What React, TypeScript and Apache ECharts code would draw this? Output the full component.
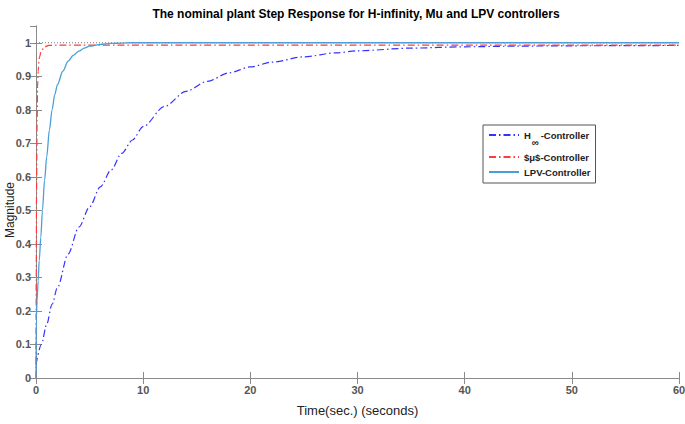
import React, { useEffect, useRef } from "react";
import * as echarts from "echarts";

const title = "The nominal plant Step Response for H-infinity, Mu and LPV controllers";
const xName = "Time(sec.) (seconds)";
const yName = "Magnitude";
const seriesNames = ["H∞-Controller", "$μ$-Controller", "LPV-Controller"];

const hinfT = [0, 0.5, 1, 1.5, 2, 3, 4, 5, 6, 7, 8, 9, 10, 12, 14, 16, 18, 20, 22, 25, 28, 30, 35, 40, 45, 50, 60];
const hinfV = [0.04, 0.1, 0.16, 0.22, 0.27, 0.37, 0.45, 0.51, 0.57, 0.62, 0.67, 0.71, 0.75, 0.81, 0.855, 0.885, 0.91, 0.928, 0.942, 0.958, 0.97, 0.976, 0.984, 0.988, 0.99, 0.991, 0.992];

const muT = [0, 0.01, 0.02, 0.05, 0.1, 0.15, 0.2, 0.3, 0.5, 0.8, 1.2, 2, 60];
const muV = [0, 0.18, 0.3, 0.55, 0.76, 0.87, 0.915, 0.955, 0.976, 0.988, 0.992, 0.993, 0.993];

const lpvT = [0, 0.03, 0.1, 0.2, 0.3, 0.45, 0.6, 0.8, 1, 1.25, 1.5, 1.75, 2, 2.5, 3, 3.5, 4, 4.5, 5, 6, 7, 8, 9, 60];
const lpvV = [0, 0.18, 0.23, 0.29, 0.35, 0.42, 0.5, 0.59, 0.66, 0.74, 0.8, 0.845, 0.875, 0.915, 0.945, 0.963, 0.975, 0.984, 0.99, 0.995, 0.998, 0.999, 1.0, 1.0];

const refT = [0, 60];
const refV = [1, 1];

const xTicks = { min: 0, max: 60, interval: 10 };
const yTicks = { min: 0, max: 1.05, interval: 0.1 };

const zip = (t: number[], v: number[]) => t.map((x, i) => [x, v[i]]);

const FONT = "'Liberation Sans Narrow', 'Liberation Sans', Arial, sans-serif";
const AXIS_GRAY = "#8a8a8a";
const LABEL_GRAY = "#555555";

export default function App() {
  const ref = useRef<HTMLDivElement>(null);
  useEffect(() => {
    if (!ref.current) return;
    const chart = echarts.init(ref.current, undefined, { renderer: "svg" });
    const yFmt = (v: number) => {
      const r = Math.round(v * 10) / 10;
      if (Math.abs(r - v) > 1e-6) return "";
      return String(r);
    };
    chart.setOption({
      animation: false,
      backgroundColor: "#ffffff",
      title: {
        text: title,
        left: 351,
        textAlign: "center",
        top: 3,
        textStyle: { fontFamily: FONT, fontSize: 12, fontWeight: "bold", color: "#000" },
      },
      grid: { left: 36, right: 6, top: 26, bottom: 46, containLabel: false, outerBoundsMode: "none" },
      graphic: [
        {
          type: "text",
          x: 10,
          y: 210,
          rotation: Math.PI / 2,
          style: {
            text: yName,
            fontFamily: "'Liberation Sans', Arial, sans-serif",
            fontSize: 12,
            fill: "#222",
            align: "center",
            verticalAlign: "middle",
          },
        },
      ],
      legend: {
        data: seriesNames,
        orient: "vertical",
        left: 483,
        top: 125,
        itemWidth: 30,
        itemHeight: 10,
        itemGap: 5,
        padding: [5, 5, 6, 5],
        borderColor: "#555",
        borderWidth: 1,
        backgroundColor: "#fff",
        itemStyle: { opacity: 0 },
        formatter: (name: string) => {
          if (name === seriesNames[0]) return "{t|H}{sub|∞}{t|-Controller}";
          return "{t|" + name + "}";
        },
        textStyle: {
          fontFamily: FONT,
          fontSize: 9.5,
          fontWeight: "bold",
          color: "#222",
          rich: {
            t: { fontFamily: FONT, fontSize: 9.5, fontWeight: "bold", color: "#222" },
            sub: { fontFamily: FONT, fontSize: 9.5, fontWeight: "bold", color: "#222", padding: [14, 2, 0, 1] },
          },
        },
      },
      xAxis: [
        {
          type: "value",
          min: xTicks.min,
          max: xTicks.max,
          interval: xTicks.interval,
          name: xName,
          nameLocation: "middle",
          nameGap: 26,
          nameMoveOverlap: false,
          nameTextStyle: { fontFamily: "'Liberation Sans', Arial, sans-serif", fontSize: 13, color: "#222" },
          axisLine: { show: true, lineStyle: { color: AXIS_GRAY, width: 1 } },
          axisTick: { show: true, inside: true, length: 6, lineStyle: { color: AXIS_GRAY } },
          axisLabel: { fontFamily: FONT, fontSize: 11, fontWeight: "bold", color: LABEL_GRAY, margin: 6 },
          splitLine: { show: false },
        },
        {
          type: "value",
          position: "top",
          min: xTicks.min,
          max: xTicks.max,
          interval: xTicks.interval,
          axisLine: { show: true, lineStyle: { color: AXIS_GRAY, width: 1 } },
          axisTick: { show: true, inside: true, length: 6, lineStyle: { color: AXIS_GRAY } },
          axisLabel: { show: false },
          splitLine: { show: false },
        },
      ],
      yAxis: [
        {
          type: "value",
          min: yTicks.min,
          max: yTicks.max,
          interval: yTicks.interval,
          axisLine: { show: true, lineStyle: { color: AXIS_GRAY, width: 1 } },
          axisTick: { show: true, inside: true, length: 6, lineStyle: { color: AXIS_GRAY } },
          axisLabel: { fontFamily: FONT, fontSize: 11, fontWeight: "bold", color: LABEL_GRAY, margin: 5, formatter: yFmt, showMaxLabel: false },
          splitLine: { show: false },
        },
        {
          type: "value",
          position: "right",
          min: yTicks.min,
          max: yTicks.max,
          interval: yTicks.interval,
          axisLine: { show: true, lineStyle: { color: AXIS_GRAY, width: 1 } },
          axisTick: { show: true, inside: true, length: 6, lineStyle: { color: AXIS_GRAY } },
          axisLabel: { show: false },
          splitLine: { show: false },
        },
      ],
      series: [
        {
          name: "ref",
          type: "line",
          data: zip(refT, refV),
          symbol: "none",
          silent: true,
          lineStyle: { color: "#777", width: 1, type: [1, 2] },
          z: 1,
        },
        {
          name: seriesNames[0],
          type: "line",
          data: zip(hinfT, hinfV),
          symbol: "none",
          smooth: 0.3,
          smoothMonotone: "x",
          lineStyle: { color: "#3333ff", width: 1.2, type: [7, 3, 1.5, 3] },
          itemStyle: { color: "#3333ff" },
          z: 2,
        },
        {
          name: seriesNames[1],
          type: "line",
          data: zip(muT, muV),
          symbol: "none",
          smooth: 0.3,
          smoothMonotone: "x",
          lineStyle: { color: "#ff3b3b", width: 1.2, type: [7, 3, 1.5, 3] },
          itemStyle: { color: "#ff3b3b" },
          z: 3,
        },
        {
          name: seriesNames[2],
          type: "line",
          data: zip(lpvT, lpvV),
          symbol: "none",
          smooth: 0.3,
          smoothMonotone: "x",
          lineStyle: { color: "#4a9fd8", width: 1.3 },
          itemStyle: { color: "#4a9fd8" },
          z: 4,
        },
      ],
    });
    return () => chart.dispose();
  }, []);
  return <div ref={ref} style={{ position: "fixed", left: 0, top: 0, width: 685, height: 424 }} />;
}
